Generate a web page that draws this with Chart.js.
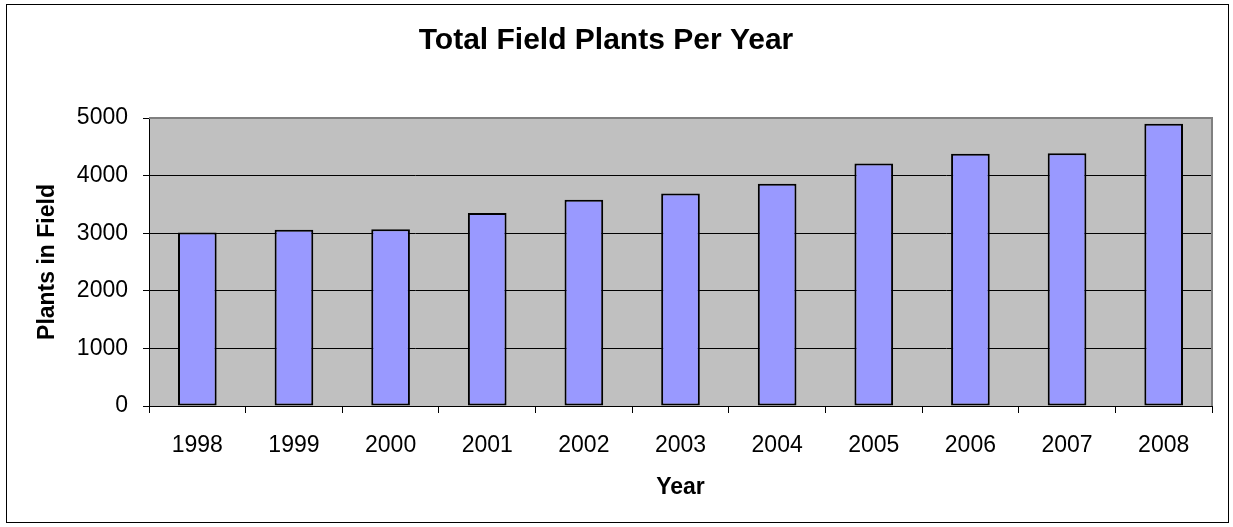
<!DOCTYPE html>
<html>
<head>
<meta charset="utf-8">
<script src="https://cdn.jsdelivr.net/npm/chart.js@4/dist/chart.umd.min.js"></script>
<style>
  html, body { margin: 0; padding: 0; background: #ffffff; }
  #wrap { width: 1233px; height: 527px; }
</style>
</head>
<body>
<div id="wrap"><canvas id="chart" width="1233" height="527"></canvas></div>
<script>
// Field plant counts by year
const years = ['1998', '1999', '2000', '2001', '2002', '2003', '2004', '2005', '2006', '2007', '2008'];
const plantsInField = [3010, 3060, 3070, 3350, 3580, 3690, 3860, 4210, 4380, 4390, 4900];
const yTickValues = [0, 1000, 2000, 3000, 4000, 5000];

const FONT = '"Liberation Sans", Arial, sans-serif';

// Grey plot background plus the grey top/right frame of the plot area
const plotFrame = {
  id: 'plotFrame',
  beforeDraw(chart) {
    const { ctx, chartArea: a } = chart;
    ctx.save();
    ctx.fillStyle = '#C0C0C0';
    ctx.fillRect(a.left, a.top, a.right - a.left, a.bottom - a.top);
    ctx.restore();
  },
  beforeDatasetsDraw(chart) {
    const { ctx, chartArea: a } = chart;
    ctx.save();
    ctx.strokeStyle = '#808080';
    ctx.lineWidth = 2;
    ctx.beginPath();
    ctx.moveTo(a.left, a.top);
    ctx.lineTo(a.right, a.top);
    ctx.lineTo(a.right, a.bottom);
    ctx.stroke();
    ctx.restore();
  }
};

// Thin frame around the whole chart
const outerFrame = {
  id: 'outerFrame',
  afterDraw(chart) {
    const { ctx } = chart;
    ctx.save();
    ctx.strokeStyle = '#000000';
    ctx.lineWidth = 1;
    ctx.strokeRect(6.5, 4.5, 1222, 518);
    ctx.restore();
  }
};

new Chart(document.getElementById('chart'), {
  type: 'bar',
  data: {
    labels: years,
    datasets: [{
      label: 'Plants in Field',
      data: plantsInField,
      backgroundColor: '#9999FF',
      borderColor: '#000000',
      borderWidth: 2,
      borderSkipped: false,
      barPercentage: 0.4,
      categoryPercentage: 1.0
    }]
  },
  options: {
    responsive: false,
    animation: false,
    devicePixelRatio: 1,
    layout: { padding: { top: 0, left: 0, right: 21, bottom: 0 } },
    plugins: {
      legend: { display: false },
      tooltip: { enabled: false },
      title: {
        display: true,
        text: 'Total Field Plants Per Year',
        color: '#000000',
        font: { family: FONT, size: 30, weight: 'bold' },
        padding: { top: 23, bottom: 59 }
      }
    },
    scales: {
      x: {
        grid: {
          offset: true,
          drawOnChartArea: false,
          drawTicks: true,
          tickLength: 7,
          tickColor: '#000000'
        },
        border: { display: true, color: '#000000', width: 1 },
        ticks: {
          color: '#000000',
          font: { family: FONT, size: 23 },
          padding: 19,
          maxRotation: 0
        },
        title: {
          display: true,
          text: 'Year',
          color: '#000000',
          font: { family: FONT, size: 23, weight: 'bold' },
          padding: { top: 0, bottom: 26 }
        },
        afterFit(scale) { scale.height = 121; }
      },
      y: {
        min: 0,
        max: 5000,
        afterBuildTicks(scale) { scale.ticks = yTickValues.map(v => ({ value: v })); },
        grid: {
          color: ctx => (ctx.tick && ctx.tick.value === 5000) ? 'rgba(0,0,0,0)' : '#000000',
          lineWidth: 1,
          drawTicks: true,
          tickLength: 6,
          tickColor: '#000000'
        },
        border: { display: true, color: '#000000', width: 1 },
        ticks: {
          color: '#000000',
          font: { family: FONT, size: 23 },
          padding: 15,
          callback: v => String(v)
        },
        title: {
          display: true,
          text: 'Plants in Field',
          color: '#000000',
          font: { family: FONT, size: 23, weight: 'bold' },
          padding: { top: 34, bottom: 0 }
        },
        afterFit(scale) { scale.width = 149; }
      }
    }
  },
  plugins: [plotFrame, outerFrame]
});
</script>
</body>
</html>
